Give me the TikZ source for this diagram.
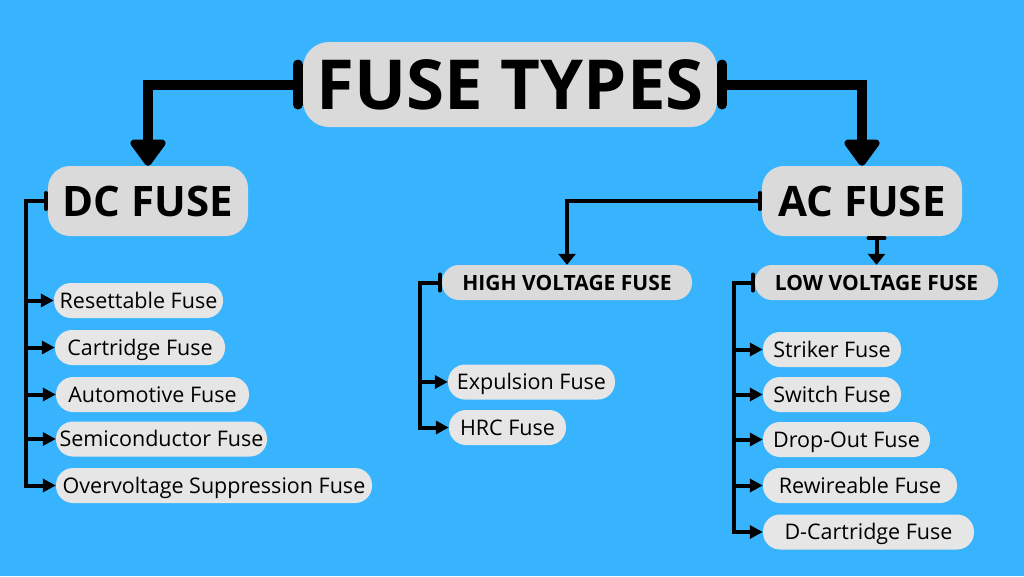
\documentclass[tikz,border=0pt]{standalone}
\usepackage{fontspec}
\setmainfont{Open Sans}
\usetikzlibrary{arrows.meta}
\definecolor{bgblue}{HTML}{38B4FE}
\definecolor{headgray}{HTML}{DADADA}
\definecolor{leafgray}{HTML}{E6E6E6}
\tikzset{
  titlebox/.style={fill=headgray, rounded corners=26pt, inner sep=0pt,
    font=\fontsize{69}{69}\selectfont\bfseries},
  headbox/.style={fill=headgray, rounded corners=22pt, inner sep=0pt,
    font=\fontsize{42}{42}\selectfont\bfseries},
  subbox/.style={fill=headgray, rounded corners=17pt, inner sep=0pt,
    minimum height=35pt, font=\fontsize{21}{21}\selectfont\bfseries},
  leafbox/.style={fill=leafgray, rounded corners=17pt, inner sep=0pt,
    minimum height=35pt, text height=15.4pt, text depth=0pt,
    font=\fontsize{21.5}{21.5}\selectfont},
  bigconn/.style={line width=10pt, line join=miter,
    {Bar[width=40pt,line width=10pt,round]}-{Triangle[width=40pt,length=29pt,round]}},
  midconn/.style={line width=4pt, line join=miter,
    {Bar[width=16pt,line width=4pt,round]}-{Triangle[width=17pt,length=11pt]}},
  barline/.style={line width=4pt, line join=miter,
    {Bar[width=16pt,line width=4pt,round]}-{Triangle[width=13pt,length=13pt]}},
  leafarrow/.style={line width=4pt, -{Triangle[width=13pt,length=13pt]}},
}
\begin{document}
\begin{tikzpicture}[x=1pt,y=-1pt]
\useasboundingbox (0,0) rectangle (1024,576);
\fill[bgblue] (0,0) rectangle (1024,576);

% main nodes
\node[titlebox, minimum width=414pt, minimum height=85pt] (title) at (510,84.5) {FUSE TYPES};
\node[headbox, minimum width=200pt, minimum height=70pt] (dc) at (148,201) {DC FUSE};
\node[headbox, minimum width=200pt, minimum height=70pt] (ac) at (862,201) {AC FUSE};
\node[subbox, minimum width=250pt] (hv) at (567,282.5) {HIGH VOLTAGE FUSE};
\node[subbox, minimum width=243pt] (lv) at (876.5,282.5) {LOW VOLTAGE FUSE};

% DC leaves
\node[leafbox, minimum width=169pt] (res) at (138.5,300.5) {Resettable Fuse};
\node[leafbox, minimum width=170pt] (car) at (140,347.5) {Cartridge Fuse};
\node[leafbox, minimum width=193pt] (aut) at (152.5,394.5) {Automotive Fuse};
\node[leafbox, minimum width=211pt] (sem) at (161.5,439) {Semiconductor Fuse};
\node[leafbox, minimum width=316pt] (ovs) at (214,485.5) {Overvoltage Suppression Fuse};

% HV leaves
\node[leafbox, minimum width=167pt] (exp) at (531.5,382) {Expulsion Fuse};
\node[leafbox, minimum width=117pt] (hrc) at (507.5,427.5) {HRC Fuse};

% LV leaves
\node[leafbox, minimum width=138pt] (str) at (832,349.5) {Striker Fuse};
\node[leafbox, minimum width=138pt] (swi) at (832,394.5) {Switch Fuse};
\node[leafbox, minimum width=167pt] (dro) at (846.5,439.5) {Drop-Out Fuse};
\node[leafbox, minimum width=194pt] (rew) at (860,485.5) {Rewireable Fuse};
\node[leafbox, minimum width=211pt] (dca) at (868.5,532) {D-Cartridge Fuse};

% trunk coordinates
\coordinate (dcx) at (25.5,0);
\coordinate (hvx) at (420,0);
\coordinate (lvx) at (733.5,0);

% main connectors
\draw[bigconn] (title.west) -| (dc.north);
\draw[bigconn] (title.east) -| (ac.north);

% AC connectors
\draw[midconn] (ac.west) -| (hv.north);
\draw[midconn] (ac.south -| lv.north) -- (lv.north);

% DC tree
\draw[barline] (dc.west) -| (dcx |- ovs.west) -- (ovs.west);
\foreach \n in {res,car,aut,sem}
  \draw[leafarrow] (dcx |- \n.west) -- (\n.west);

% HV tree
\draw[barline] (hv.west) -| (hvx |- hrc.west) -- (hrc.west);
\draw[leafarrow] (hvx |- exp.west) -- (exp.west);

% LV tree
\draw[barline] (lv.west) -| (lvx |- dca.west) -- (dca.west);
\foreach \n in {str,swi,dro,rew}
  \draw[leafarrow] (lvx |- \n.west) -- (\n.west);
\end{tikzpicture}
\end{document}
